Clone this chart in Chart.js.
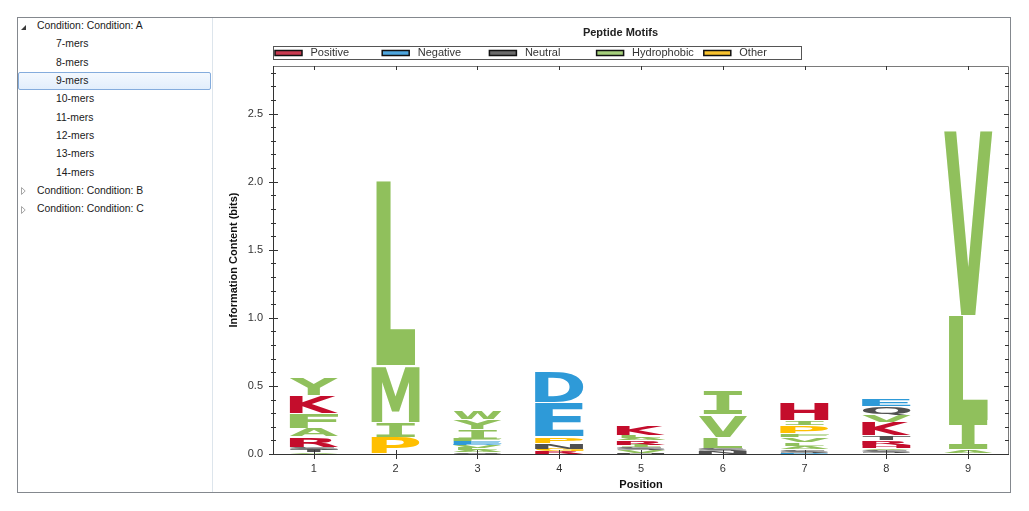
<!DOCTYPE html>
<html>
<head>
<meta charset="utf-8">
<script src="https://cdn.jsdelivr.net/npm/chart.js@4.4.1/dist/chart.umd.min.js"></script>
<style>
  body { margin: 0; background: #fff; font-family: "Liberation Sans", Arial, sans-serif; }
  #frame { position: absolute; left: 17px; top: 17px; width: 992px; height: 474px; border: 1px solid #84888e; }
  #tree { position: absolute; left: 0; top: 0; width: 194px; height: 474px; border-right: 1px solid #dde5ec; }
  .row { position: absolute; height: 18px; line-height: 18px; font-size: 10.4px; color: #1a1a1a; white-space: nowrap; }
  .sel { position: absolute; left: 0; top: 54px; width: 191px; height: 16px; border: 1px solid #84acdd; border-radius: 2px;
         background: linear-gradient(#f3f8fe, #e2eefc); }
  .tri { position: absolute; }
  #chartBox { position: absolute; left: 195px; top: 0; width: 796px; height: 474px; }
</style>
</head>
<body>
<div id="frame">
  <div id="tree">
    <div class="sel"></div>
    <svg class="tri" style="left:3px;top:7px" width="5" height="5"><polygon points="5,0 5,5 0,5" fill="#3a3a3a"/></svg>
    <div class="row" style="left:19px;top:-1px">Condition: Condition: A</div>
    <div class="row" style="left:38px;top:17.3px">7-mers</div>
    <div class="row" style="left:38px;top:35.7px">8-mers</div>
    <div class="row" style="left:38px;top:54px">9-mers</div>
    <div class="row" style="left:38px;top:72.3px">10-mers</div>
    <div class="row" style="left:38px;top:90.7px">11-mers</div>
    <div class="row" style="left:38px;top:109px">12-mers</div>
    <div class="row" style="left:38px;top:127.3px">13-mers</div>
    <div class="row" style="left:38px;top:145.7px">14-mers</div>
    <svg class="tri" style="left:3px;top:169px" width="5" height="8"><polygon points="0.5,0.5 4.2,4 0.5,7.5" fill="none" stroke="#a6a6a6"/></svg>
    <div class="row" style="left:19px;top:164px">Condition: Condition: B</div>
    <svg class="tri" style="left:3px;top:187.5px" width="5" height="8"><polygon points="0.5,0.5 4.2,4 0.5,7.5" fill="none" stroke="#a6a6a6"/></svg>
    <div class="row" style="left:19px;top:182.3px">Condition: Condition: C</div>
  </div>
  <div id="chartBox"><canvas id="chart" width="796" height="474"></canvas></div>
</div>
<script>
// logo positions
const positions = ['1', '2', '3', '4', '5', '6', '7', '8', '9'];

// letters in each column, from the bottom of the stack to the top
const stackLetters = ['VTSRAFKY', 'PIML', 'SALVDEFIYW', 'RGNPED', 'NVSIRALK', 'NSLVI', 'DSALVFPIH', 'SAHRTKVQE', 'AILV'];

// information content (bits) of each letter, same order
const stackBits = [
  [0.012, 0.016, 0.022, 0.077, 0.063, 0.110, 0.128, 0.127],
  [0.123, 0.112, 0.412, 1.360],
  [0.012, 0.015, 0.018, 0.020, 0.012, 0.015, 0.015, 0.075, 0.070, 0.060],
  [0.020, 0.015, 0.045, 0.045, 0.250, 0.230],
  [0.008, 0.017, 0.025, 0.015, 0.035, 0.015, 0.018, 0.075],
  [0.015, 0.027, 0.081, 0.164, 0.176],
  [0.010, 0.020, 0.025, 0.030, 0.035, 0.030, 0.058, 0.035, 0.130],
  [0.031, 0.012, 0.020, 0.035, 0.035, 0.100, 0.049, 0.066, 0.056],
  [0.030, 0.215, 0.775, 1.357]
];

// residue classes
const classNames = ['Positive', 'Negative', 'Neutral', 'Hydrophobic', 'Other'];
const classLetters = ['KRH', 'DE', 'STNQC', 'AVLIMFWY', 'PG'];
const classColors = ['#c40d2c', '#2e9ad8', '#505050', '#90c05c', '#ffbf00'];
const legendColors = ['#c93a50', '#4ea6de', '#6a6a6a', '#a5cf7b', '#f8c22e'];

const FONT = '"Liberation Sans", Arial, sans-serif';
Chart.defaults.font.family = FONT;

function colorOf(ch) {
  const c = classLetters.findIndex(s => s.includes(ch));
  return c < 0 ? '#000' : classColors[c];
}

// one dataset per stack level
const depth = Math.max(...stackLetters.map(s => s.length));
const datasets = [];
for (let k = 0; k < depth; k++) {
  datasets.push({
    data: stackBits.map(b => b[k] || 0),
    letters: stackLetters.map(s => s[k] || ''),
    backgroundColor: 'rgba(0,0,0,0)',
    borderWidth: 0,
    barPercentage: 0.59,
    categoryPercentage: 1
  });
}

// draw each bar as a stretched letter
const logoPlugin = {
  id: 'logo',
  afterDatasetsDraw(chart) {
    const ctx = chart.ctx;
    ctx.save();
    ctx.textAlign = 'left';
    ctx.textBaseline = 'alphabetic';
    chart.data.datasets.forEach((ds, di) => {
      chart.getDatasetMeta(di).data.forEach((bar, i) => {
        const ch = ds.letters[i];
        if (!ch) return;
        const p = bar.getProps(['x', 'y', 'base', 'width'], true);
        let top = Math.min(p.y, p.base);
        let h = Math.abs(p.base - p.y);
        if (h > 3) { top += 0.5; h -= 1; }
        if (h < 0.4) return;
        ctx.font = ch === 'I' ? 'bold 100px "DejaVu Sans Mono", monospace' : 'bold 100px "DejaVu Sans", sans-serif';
        const m = ctx.measureText(ch);
        const gw = m.actualBoundingBoxLeft + m.actualBoundingBoxRight;
        const gh = m.actualBoundingBoxAscent + m.actualBoundingBoxDescent;
        const w = p.width * ('IL'.includes(ch) ? 0.8 : 1);
        ctx.save();
        ctx.translate(p.x - w / 2, top);
        ctx.scale(w / gw, h / gh);
        ctx.fillStyle = colorOf(ch);
        ctx.fillText(ch, m.actualBoundingBoxLeft, m.actualBoundingBoxAscent);
        ctx.restore();
      });
    });
    ctx.restore();
  }
};

// plot frame, tick marks and the boxed legend
const framePlugin = {
  id: 'frame',
  afterDraw(chart) {
    const ctx = chart.ctx;
    const a = chart.chartArea;
    const ys = chart.scales.y, xs = chart.scales.x;
    ctx.save();
    ctx.lineWidth = 1;
    // top / right
    ctx.strokeStyle = '#7a7a7a';
    ctx.beginPath();
    ctx.moveTo(a.left, a.top + 0.5); ctx.lineTo(a.right - 0.5, a.top + 0.5); ctx.lineTo(a.right - 0.5, a.bottom);
    ctx.stroke();
    // left / bottom
    ctx.strokeStyle = '#333';
    ctx.beginPath();
    ctx.moveTo(a.left + 0.5, a.top); ctx.lineTo(a.left + 0.5, a.bottom + 0.5); ctx.lineTo(a.right, a.bottom + 0.5);
    ctx.stroke();
    // y ticks every 0.1
    ctx.beginPath();
    for (let i = 0; i <= 28; i++) {
      const yy = Math.round(ys.getPixelForValue(i / 10)) + 0.5;
      const major = i % 5 === 0;
      ctx.moveTo(a.left - (major ? 4 : 2), yy); ctx.lineTo(a.left + (major ? 5 : 3), yy);
      ctx.moveTo(a.right - (major ? 5 : 4), yy); ctx.lineTo(a.right, yy);
    }
    // x ticks
    positions.forEach((_, i) => {
      const xx = Math.round(xs.getPixelForValue(i)) + 0.5;
      ctx.moveTo(xx, a.bottom - 4); ctx.lineTo(xx, a.bottom + 5);
      ctx.moveTo(xx, a.top); ctx.lineTo(xx, a.top + 4);
    });
    ctx.strokeStyle = '#333';
    ctx.stroke();

    // legend
    ctx.strokeStyle = '#555';
    ctx.strokeRect(60.5, 28.5, 528, 13);
    ctx.font = '11px ' + FONT;
    ctx.textBaseline = 'middle';
    ctx.textAlign = 'left';
    classNames.forEach((name, i) => {
      const x0 = 62 + i * 107.2;
      ctx.fillStyle = legendColors[i];
      ctx.fillRect(x0, 32.5, 27, 5);
      ctx.lineWidth = 1.5;
      ctx.strokeStyle = '#111';
      ctx.strokeRect(x0, 32.5, 27, 5);
      ctx.fillStyle = '#333';
      ctx.fillText(name, x0 + 35.5, 35);
    });
    ctx.restore();
  }
};

new Chart(document.getElementById('chart'), {
  type: 'bar',
  data: { labels: positions, datasets: datasets },
  options: {
    responsive: false,
    animation: false,
    layout: { padding: { left: 19, right: 0, top: 0, bottom: 0 } },
    plugins: {
      legend: { display: false },
      tooltip: { enabled: false },
      title: {
        display: true, text: 'Peptide Motifs', color: '#222',
        font: { size: 11, weight: 'bold' }, padding: { top: 8, bottom: 26.8 }
      }
    },
    scales: {
      x: {
        stacked: true,
        grid: { display: false, drawTicks: false },
        border: { display: false },
        ticks: { color: '#333', font: { size: 11 }, padding: 8 },
        title: { display: true, text: 'Position', color: '#111', font: { size: 11, weight: 'bold' }, padding: 0 },
        afterFit: s => { s.height = 38; }
      },
      y: {
        stacked: true, min: 0, max: 2.85,
        grid: { display: false, drawTicks: false },
        border: { display: false },
        ticks: { stepSize: 0.5, includeBounds: false, padding: 10, color: '#333', font: { size: 11 },
                 callback: v => v.toFixed(1) },
        title: { display: true, text: 'Information Content (bits)', color: '#111',
                 font: { size: 11, weight: 'bold' }, padding: { top: -5, bottom: 0 } },
        afterFit: s => { s.width = 41; }
      }
    }
  },
  plugins: [logoPlugin, framePlugin]
});
</script>
</body>
</html>
